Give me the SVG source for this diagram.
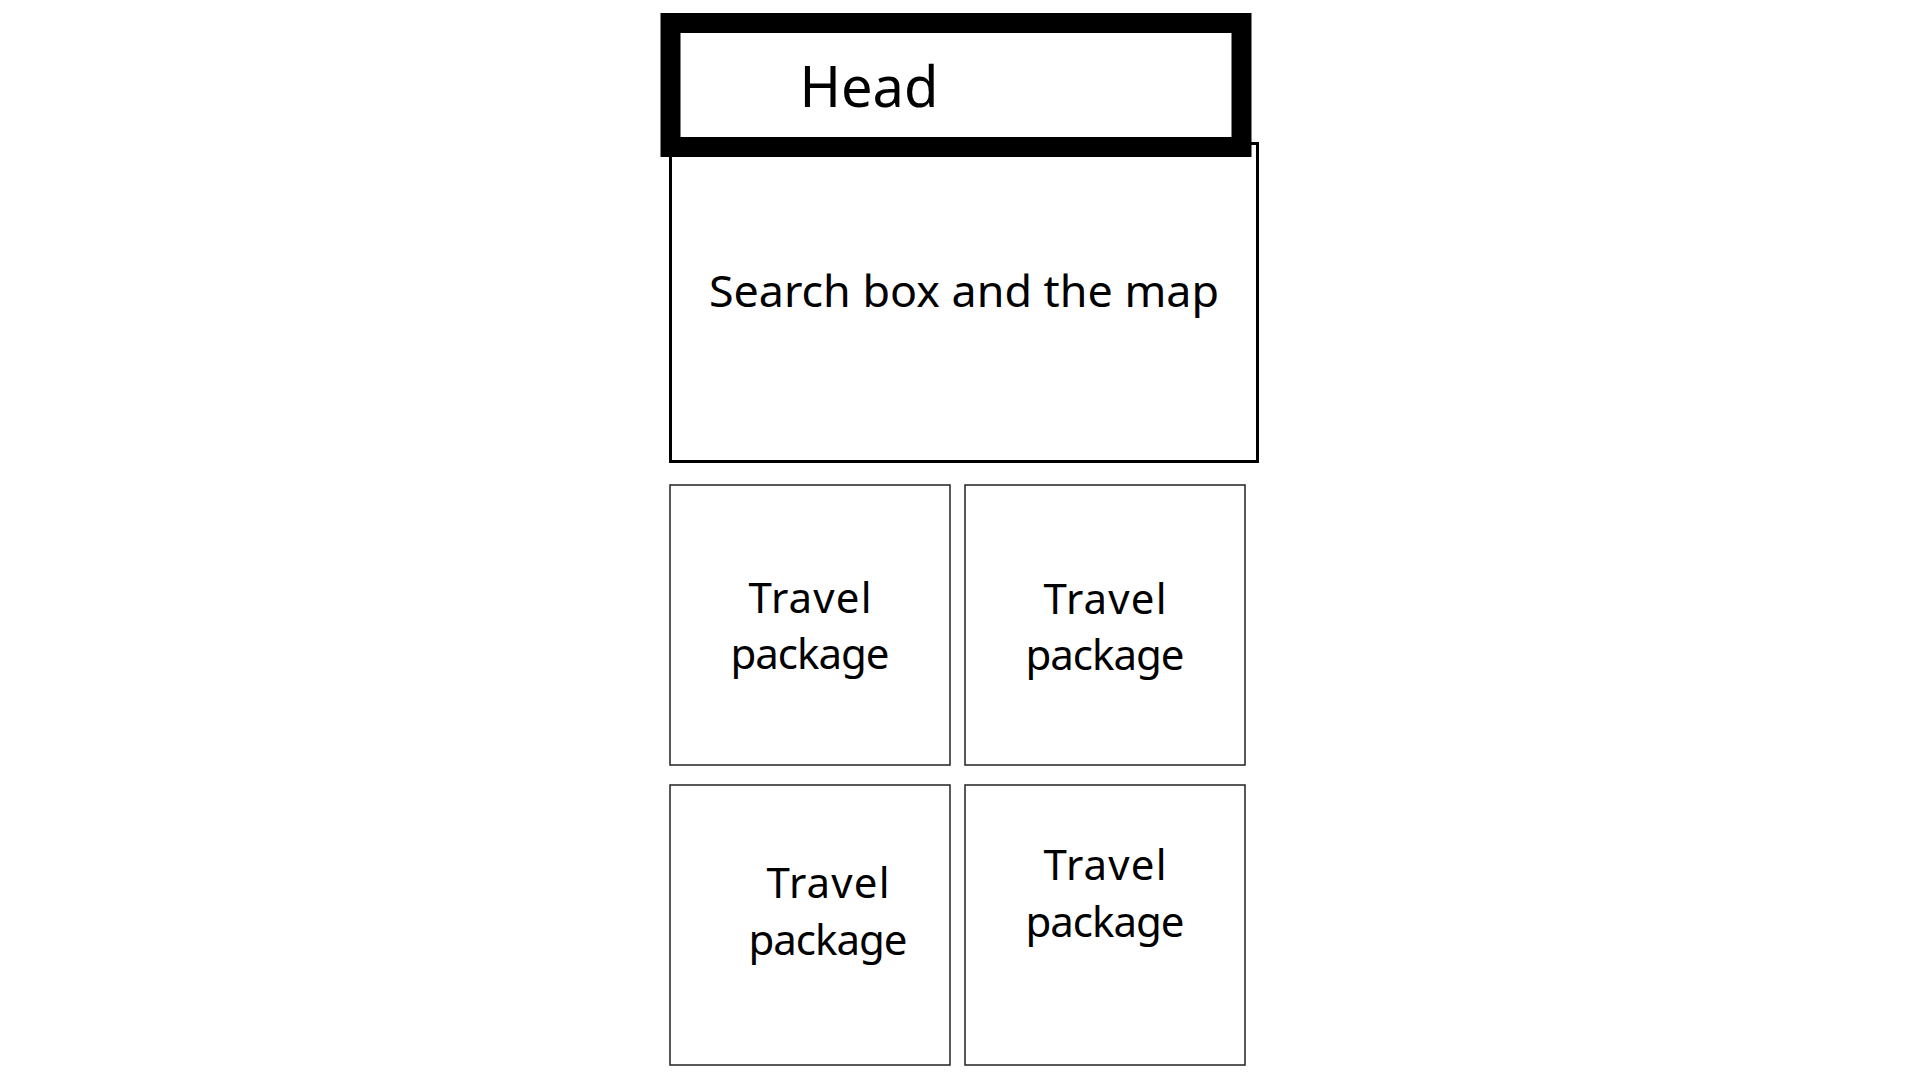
<svg xmlns="http://www.w3.org/2000/svg" width="1920" height="1080" viewBox="0 0 1920 1080">
<style>
.lbl{font-family:"Noto Sans","Open Sans",sans-serif;fill:#000;text-anchor:middle}
.pkg{fill:#fff;stroke:#222;stroke-width:1.5}
</style>
<rect width="1920" height="1080" fill="#fff"/>
<g id="search">
<rect x="670.5" y="143.5" width="587" height="318" fill="#fff" stroke="#000" stroke-width="3"/>
<text class="lbl" x="964" y="307" font-size="43" textLength="510" lengthAdjust="spacingAndGlyphs">Search box and the map</text>
</g>
<g id="head">
<rect x="670.5" y="23" width="571" height="124" fill="#fff" stroke="#000" stroke-width="20"/>
<text class="lbl" x="869" y="107" font-size="56">Head</text>
</g>
<g id="pkg1">
<rect class="pkg" x="670" y="485" width="280" height="280"/>
<text class="lbl" font-size="42"><tspan x="810" y="613" textLength="123">Travel</tspan><tspan x="810" y="669" textLength="159">package</tspan></text>
</g>
<g id="pkg2">
<rect class="pkg" x="965" y="485" width="280" height="280"/>
<text class="lbl" font-size="42"><tspan x="1105" y="614" textLength="123">Travel</tspan><tspan x="1105" y="670" textLength="159">package</tspan></text>
</g>
<g id="pkg3">
<rect class="pkg" x="670" y="785" width="280" height="280"/>
<text class="lbl" font-size="42"><tspan x="828" y="898" textLength="123">Travel</tspan><tspan x="828" y="955" textLength="159">package</tspan></text>
</g>
<g id="pkg4">
<rect class="pkg" x="965" y="785" width="280" height="280"/>
<text class="lbl" font-size="42"><tspan x="1105" y="880" textLength="123">Travel</tspan><tspan x="1105" y="937" textLength="159">package</tspan></text>
</g>
<g id="connectors"/>
</svg>
